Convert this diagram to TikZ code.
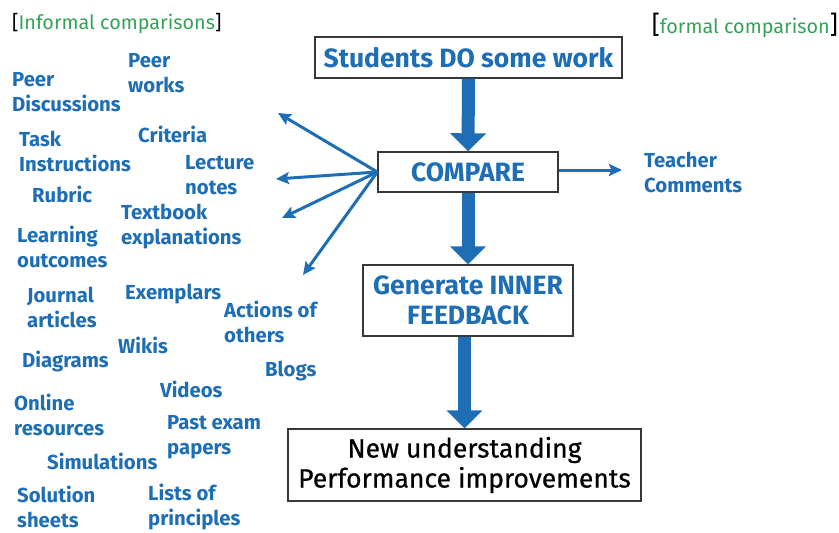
\documentclass[tikz,border=0pt]{standalone}
\usepackage{fontspec}
\setmainfont{Fira Sans}
\newfontfamily\medfont{Fira Sans}[FakeBold=0.6]
\usepackage{tikz}
\usetikzlibrary{arrows.meta}
\definecolor{myblue}{RGB}{30,110,182}
\definecolor{mygreen}{RGB}{52,162,88}
\definecolor{mygray}{RGB}{55,55,55}

\begin{document}
\begin{tikzpicture}[x=1pt, y=-1pt,
	stagebox/.style={draw=mygray, line width=1.4pt, fill=white, align=center, inner sep=0pt,
		font=\bfseries\fontsize{26.5}{30}\selectfont, text=myblue},
	lbl/.style={anchor=west, align=left, inner sep=0pt, text=myblue,
		font=\bfseries\fontsize{20.3}{25}\selectfont},
	tag/.style={anchor=west, inner sep=0pt, text=mygreen, font=\fontsize{19.8}{22}\selectfont},
	bigarrow/.style={-{Triangle[width=35pt, length=18pt]}, line width=13pt, myblue},
	fan/.style={-{Stealth[width=12pt, length=13pt, inset=2.5pt]}, line width=3pt, myblue}]
	\useasboundingbox (0,0) rectangle (839,533);

	% headings
	\node[tag] (informal) at (12,24) {\textcolor{black}{[}Informal comparisons\textcolor{black}{]}};
	\node[tag, anchor=east] (formal) at (838,25) {\textcolor{black}{\fontsize{25}{25}\selectfont[}formal comparison\textcolor{black}{\fontsize{25}{25}\selectfont]}};

	% main flow
	\node[stagebox, minimum width=307pt, minimum height=41pt] (work) at (468.5,57.5) {Students DO some work};
	\node[stagebox, minimum width=180pt, minimum height=40pt] (compare) at (468,172) {COMPARE};
	\node[stagebox, minimum width=210pt, minimum height=71pt] (inner) at (468,300.5) {Generate INNER\\FEEDBACK};
	\node[stagebox, minimum width=353pt, minimum height=72pt, text=black,
		font=\medfont\fontsize{26.5}{30}\selectfont] (result) at (464.5,465) {New understanding\\Performance improvements};

	\draw[bigarrow] (work.south) -- (compare.north);
	\draw[bigarrow] (compare.south) -- (inner.north);
	\draw[bigarrow] (inner.south -| result.north) -- (result.north);

	% formal side
	\node[lbl] (teacher) at (644,172) {Teacher\\Comments};
	\coordinate (tipT) at (622,170);
	\draw[fan] (compare.east |- tipT) -- (tipT);

	% informal side
	\node[lbl] (peerdisc) at (12,92) {Peer\\Discussions};
	\node[lbl] (peerworks) at (128,73) {Peer\\works};
	\node[lbl] (criteria) at (138,134) {Criteria};
	\node[lbl] (task) at (19,151) {Task\\Instructions};
	\node[lbl] (lecture) at (185,175) {Lecture\\notes};
	\node[lbl] (rubric) at (32,194) {Rubric};
	\node[lbl] (textbook) at (121,227) {Textbook\\explanations};
	\node[lbl] (learning) at (17,247) {Learning\\outcomes};
	\node[lbl] (journal) at (27,307) {Journal\\articles};
	\node[lbl] (exemplars) at (125,294) {Exemplars};
	\node[lbl] (actions) at (224,322) {Actions of\\others};
	\node[lbl] (wikis) at (118,345) {Wikis};
	\node[lbl] (diagrams) at (22,362) {Diagrams};
	\node[lbl] (blogs) at (265,371) {Blogs};
	\node[lbl] (videos) at (160,389) {Videos};
	\node[lbl] (online) at (14,415) {Online\\resources};
	\node[lbl] (pastexam) at (167,437) {Past exam\\papers};
	\node[lbl] (simulations) at (47,461) {Simulations};
	\node[lbl] (solution) at (17,507) {Solution\\sheets};
	\node[lbl] (lists) at (148,507) {Lists of\\principles};

	\coordinate (tipA) at (278,113);
	\coordinate (tipB) at (276,179);
	\coordinate (tipC) at (282,218);
	\coordinate (tipD) at (303,275);
	\draw[fan] (compare.west) -- (tipA);
	\draw[fan] (compare.west) -- (tipB);
	\draw[fan] (compare.west) -- (tipC);
	\draw[fan] (compare.west) -- (tipD);
\end{tikzpicture}
\end{document}
